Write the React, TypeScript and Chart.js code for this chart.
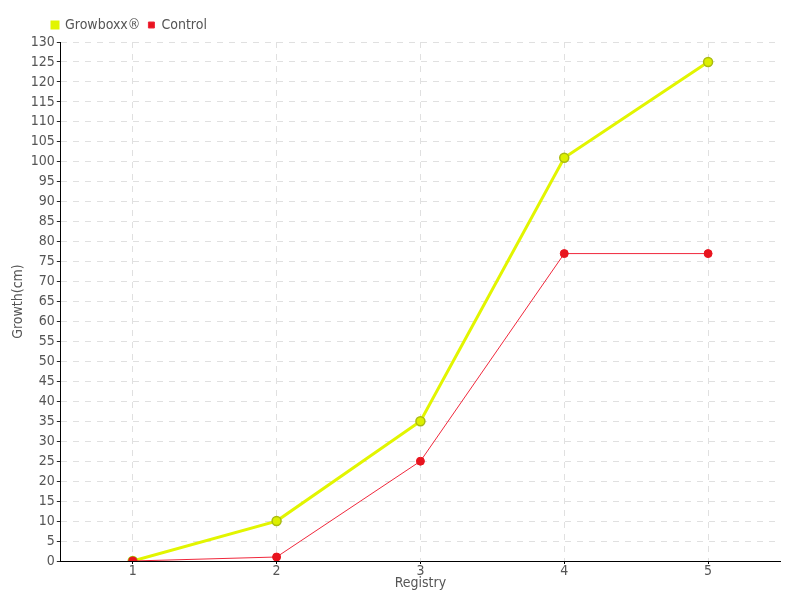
import React, { useEffect, useRef } from "react";
import { Chart, registerables } from "chart.js";
Chart.register(...registerables);

const categories = ["1", "2", "3", "4", "5"];
const growboxx = [0, 10, 35, 101, 125];
const control = [0, 1, 25, 77, 77];

const FONT = "'DejaVu Sans Condensed', 'Liberation Sans Narrow', sans-serif";
const TEXT = "#555";

const legendShift = {
  id: "legendShift",
  afterLayout(chart: any) {
    if (chart.legend) chart.legend.left += 34;
  },
};

export default function App() {
  const ref = useRef<HTMLCanvasElement>(null);
  useEffect(() => {
    document.body.style.margin = "0";
    const chart = new Chart(ref.current!, {
      type: "line",
      data: {
        labels: categories,
        datasets: [
          {
            label: "Growboxx®",
            data: growboxx,
            order: 1,
            borderColor: "#e2f500",
            backgroundColor: "#e2f500",
            pointBackgroundColor: "#dcf000",
            pointBorderColor: "#aabb10",
            pointBorderWidth: 1.5,
            pointRadius: 4.5,
            borderWidth: 3,
            tension: 0,
          },
          {
            label: "Control",
            data: control,
            order: 0,
            borderColor: "#f0283c",
            backgroundColor: "#e8141e",
            pointBackgroundColor: "#e8141e",
            pointBorderColor: "#e8141e",
            pointRadius: 4,
            borderWidth: 1,
            tension: 0,
          },
        ],
      },
      options: {
        animation: false,
        responsive: false,
        layout: { padding: { left: 10, right: 20, top: 10, bottom: 10 } },
        plugins: {
          tooltip: { enabled: false },
          legend: {
            position: "top",
            align: "start",
            labels: {
              boxWidth: 6,
              boxHeight: 6,
              padding: 8,
              color: TEXT,
              font: { family: FONT, size: 14 },
              sort: (a: any, b: any) => a.datasetIndex - b.datasetIndex,
            },
          },
        },
        scales: {
          x: {
            offset: true,
            title: {
              display: true,
              text: "Registry",
              color: TEXT,
              font: { family: FONT, size: 14, lineHeight: 1 },
              padding: { top: -2, bottom: 0 },
            },
            ticks: { color: TEXT, font: { family: FONT, size: 14, lineHeight: 1 }, padding: 0 },
            grid: { color: "#e0e0e0", tickColor: "#000", tickLength: 3, offset: false, tickBorderDash: [1, 0] },
            border: { color: "#000", width: 1, dash: [6, 6] },
          },
          y: {
            min: 0,
            max: 130,
            title: { display: true, text: "Growth(cm)", color: TEXT, font: { family: FONT, size: 14 }, padding: { top: 0, bottom: 2 } },
            ticks: { stepSize: 5, color: TEXT, font: { family: FONT, size: 14 }, padding: 2, autoSkip: false },
            grid: { color: "#e0e0e0", tickColor: "#000", tickLength: 4, tickBorderDash: [1, 0] },
            border: { color: "#000", width: 1, dash: [6, 6] },
          },
        },
      },
      plugins: [legendShift],
    });
    return () => chart.destroy();
  }, []);
  return (
    <div style={{ width: 800, height: 600 }}>
      <canvas ref={ref} width={800} height={600} />
    </div>
  );
}
